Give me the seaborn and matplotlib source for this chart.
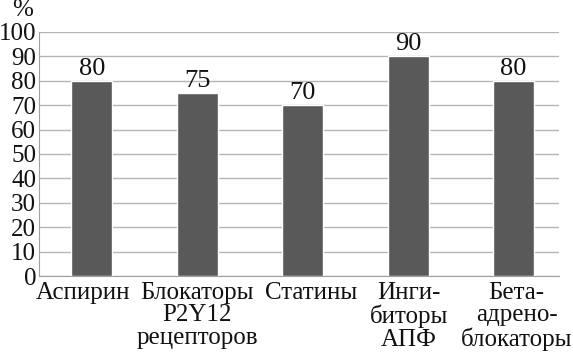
import matplotlib
matplotlib.use("Agg")
import matplotlib.pyplot as plt
import matplotlib.transforms as mtransforms
import seaborn as sns
import pandas as pd

categories = ["Аспирин", "Блокаторы\nP2Y12\nрецепторов", "Статины", "Инги-\nбиторы\nАПФ", "Бета-\nадрено-\nблокаторы"]
values = [80, 75, 70, 90, 80]
yticks = list(range(0, 101, 10))

sns.set_style("white")
plt.rcParams['font.family'] = ['Liberation Serif', 'DejaVu Serif']

df = pd.DataFrame({"cat": categories, "val": values})
fig = plt.figure(figsize=(5.73, 3.55), dpi=100)
ax = fig.add_axes([0.068, 0.2225, 0.9076, 0.6874])
sns.barplot(data=df, x="cat", y="val", color="#595959", width=0.39, ax=ax, zorder=3, saturation=1)
for p, v in zip(ax.patches, values):
    ax.text(p.get_x() + p.get_width() / 2, v + 0.5, str(v), ha="center", va="bottom", fontsize=19, color="#111111")
ax.set_ylim(0, 100)
ax.set_xlim(-0.5, len(categories) - 0.57)
ax.set_yticks(yticks)
ax.set_yticklabels([str(t) for t in yticks], fontsize=18)
ax.tick_params(axis="x", labelsize=18, length=0, pad=4)
ax.tick_params(axis="y", length=0, pad=2)
ax.grid(axis="y", color="#b5b5b5", linewidth=1, zorder=0)
for s in ["top", "right"]:
    ax.spines[s].set_visible(False)
ax.spines["left"].set_color("#a0a0a0")
ax.spines["bottom"].set_color("#a0a0a0")
ax.set_xlabel("")
ax.set_ylabel("")
label_shift_px = [-9, 0, 8, 1, 3]
for lbl, dx in zip(ax.get_xticklabels(), label_shift_px):
    lbl.set_linespacing(1.05)
    lbl.set_color("#111111")
    lbl.set_transform(lbl.get_transform() + mtransforms.ScaledTranslation(dx / 100, 0, fig.dpi_scale_trans))
for lbl in ax.get_yticklabels():
    lbl.set_color("#111111")
fig.text(23 / 573, 1 - 10 / 355, "%", ha="center", va="center", fontsize=18, color="#111111")
fig.savefig("out.png", dpi=100)
